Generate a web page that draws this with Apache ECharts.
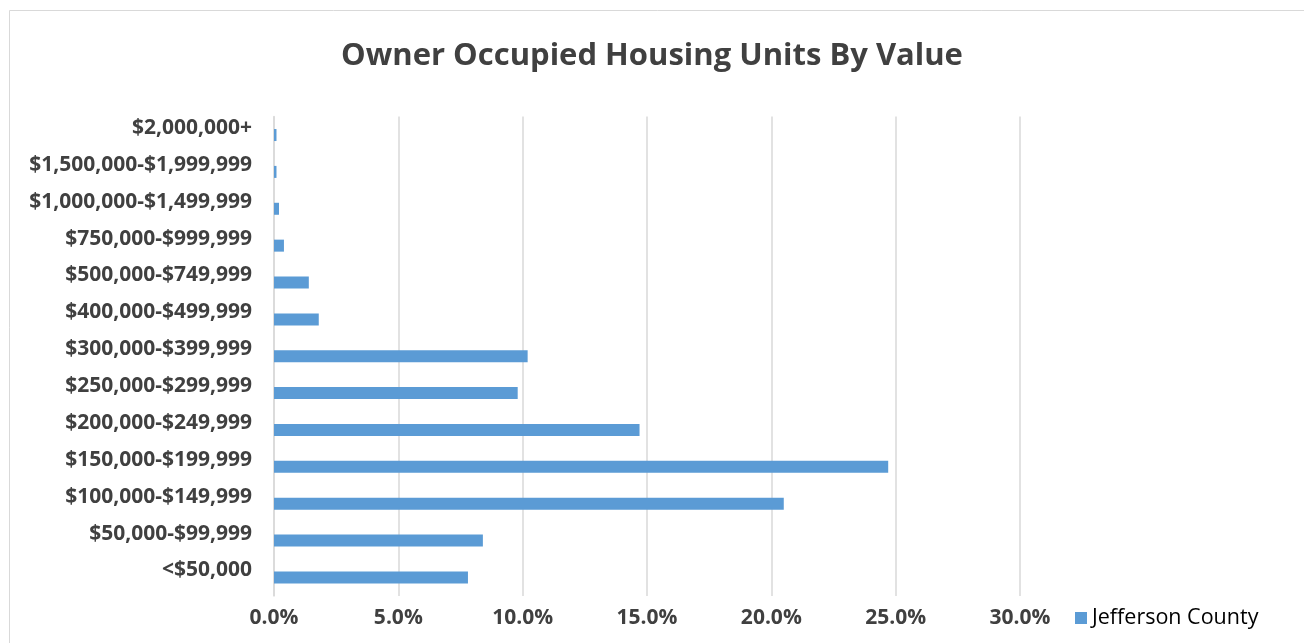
<!DOCTYPE html>
<html>
<head>
<meta charset="utf-8">
<script src="https://cdn.jsdelivr.net/npm/echarts@6/dist/echarts.min.js"></script>
<style>
  html, body { margin: 0; padding: 0; background: #fff; }
  #chart { width: 1304px; height: 643px; }
</style>
</head>
<body>
<div id="chart"></div>
<script>
// bottom-to-top order, as category axis draws from the bottom up
const categories = [
  '<$50,000', '$50,000-$99,999', '$100,000-$149,999', '$150,000-$199,999',
  '$200,000-$249,999', '$250,000-$299,999', '$300,000-$399,999',
  '$400,000-$499,999', '$500,000-$749,999', '$750,000-$999,999',
  '$1,000,000-$1,499,999', '$1,500,000-$1,999,999', '$2,000,000+'
];
const jeffersonCounty = [7.8, 8.4, 20.5, 24.7, 14.7, 9.8, 10.2, 1.8, 1.4, 0.4, 0.2, 0.1, 0.1];
const seriesName = 'Jefferson County';

const FONT = '"Open Sans", sans-serif';

const myChart = echarts.init(document.getElementById('chart'), null, { renderer: 'canvas' });

const option = {
  backgroundColor: '#fff',
  animation: false,
  textStyle: { fontFamily: FONT },
  title: {
    text: 'Owner Occupied Housing Units By Value',
    left: 'center',
    top: 36,
    textStyle: { fontSize: 31, fontWeight: 'bold', color: '#404040', fontFamily: FONT }
  },
  graphic: [{
    type: 'rect',
    shape: { x: 9.5, y: 10.5, width: 1310, height: 650 },
    style: { fill: 'none', stroke: '#d9d9d9', lineWidth: 1 },
    silent: true
  }],
  legend: {
    data: [seriesName],
    left: 1070,
    top: 602,
    icon: 'rect',
    itemWidth: 12,
    itemHeight: 12,
    itemGap: 7,
    textStyle: { fontSize: 21.5, color: '#000', fontFamily: FONT }
  },
  grid: { left: 274, right: 284, top: 116.6, bottom: 47.1, containLabel: false },
  xAxis: {
    type: 'value',
    min: 0,
    max: 30,
    interval: 5,
    axisLine: { show: false },
    axisTick: { show: false },
    splitLine: { lineStyle: { color: '#d9d9d9', width: 1.5 } },
    axisLabel: {
      formatter: v => v.toFixed(1) + '%',
      fontSize: 21, fontWeight: 'bold', color: '#404040', margin: 12
    }
  },
  yAxis: {
    type: 'category',
    data: categories,
    axisLine: { show: true, lineStyle: { color: '#d9d9d9', width: 1.5 } },
    axisTick: { show: false },
    axisLabel: {
      fontSize: 21, fontWeight: 'bold', color: '#404040', margin: 22,
      verticalAlign: 'bottom', lineHeight: 14
    }
  },
  series: [{
    name: seriesName,
    type: 'bar',
    data: jeffersonCounty,
    barWidth: 12,
    itemStyle: { color: '#5b9bd5' }
  }]
};

myChart.setOption(option);
</script>
</body>
</html>
